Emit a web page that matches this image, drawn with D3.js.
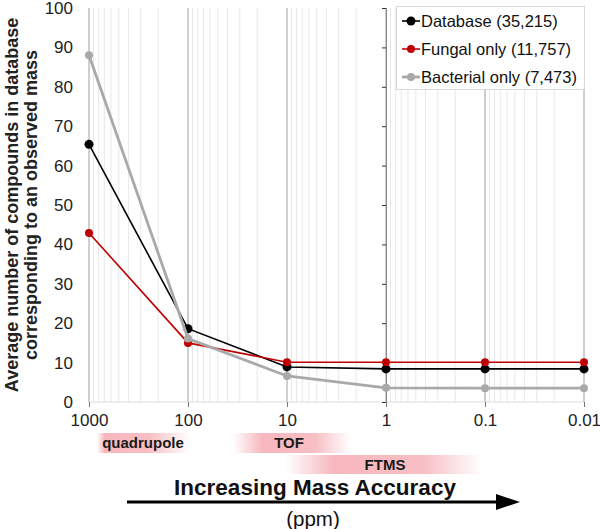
<!DOCTYPE html>
<html><head><meta charset="utf-8">
<script src="https://cdn.jsdelivr.net/npm/d3@7"></script>
<style>body{margin:0;background:#fff;font-family:"Liberation Sans",Arial,sans-serif;}</style>
</head><body><svg id="c" width="600" height="529"></svg>
<script>
const ppm = [1000, 100, 10, 1, 0.1, 0.01];
const ppmLabels = ["1000", "100", "10", "1", "0.1", "0.01"];
const yTicks = [0, 10, 20, 30, 40, 50, 60, 70, 80, 90, 100];
const seriesNames = ["Database (35,215)", "Fungal only (11,757)", "Bacterial only (7,473)"];
const database = [65.4, 18.6, 8.9, 8.4, 8.4, 8.4];
const fungal = [42.9, 15.0, 10.1, 10.1, 10.1, 10.1];
const bacterial = [88.0, 16.1, 6.6, 3.6, 3.5, 3.5];
const instruments = ["quadrupole", "TOF", "FTMS"];
const instrumentFrom = [830, 35, 10.5];
const instrumentTo = [95, 2.3, 0.107];

const svg = d3.select("#c");
const x = d3.scaleLog().domain([1000, 0.01]).range([89, 584]);
const y = d3.scaleLinear().domain([0, 100]).range([402, 8]);

// minor gridlines
const minor = x.ticks().filter(v => !ppm.some(p => Math.abs(p - v) / p < 1e-6));
svg.append("g").selectAll("line").data(minor).join("line")
  .attr("x1", d => x(d)).attr("x2", d => x(d)).attr("y1", y(100)).attr("y2", y(0))
  .attr("stroke", "#e8e8e8").attr("stroke-width", 1);
// major gridlines
svg.append("g").selectAll("line").data(ppm).join("line")
  .attr("x1", d => x(d)).attr("x2", d => x(d)).attr("y1", y(100)).attr("y2", y(0))
  .attr("stroke", d => (d === 1 || d === 0.1) ? "#9a9a9a" : "#cfcfcf")
  .attr("stroke-width", d => (d === 1 || d === 0.1) ? 1 : 2);
// x axis line
svg.append("line").attr("x1", x(1000)).attr("x2", x(0.01)).attr("y1", y(0)).attr("y2", y(0))
  .attr("stroke", "#dcdcdc").attr("stroke-width", 1);
// x axis ticks and labels
const xa = d3.axisBottom(x).tickValues(ppm).tickFormat((d, i) => ppmLabels[i]).tickSize(5).tickPadding(7);
const gx = svg.append("g").attr("transform", `translate(0,${y(0)})`).call(xa);
gx.select(".domain").remove();
gx.selectAll(".tick line").attr("stroke", "#777");
gx.selectAll("text").attr("font-size", 17).attr("fill", "#222").attr("font-family", "Liberation Sans, Arial");

// y axis at ppm=1 (crosses), labels at left
const ya = d3.axisLeft(y).tickValues(yTicks).tickSize(4).tickFormat("");
const gy = svg.append("g").attr("transform", `translate(${x(1)},0)`).call(ya);
gy.select(".domain").attr("stroke", "#888");
gy.selectAll(".tick line").attr("stroke", "#333");
svg.append("g").selectAll("text").data(yTicks).join("text")
  .attr("x", 73).attr("y", d => y(d)).attr("dy", "0.35em").attr("text-anchor", "end")
  .attr("font-size", 17).attr("fill", "#222").text(d => d);

// y title
const yt = svg.append("text").attr("transform", "translate(0,205) rotate(-90)")
  .attr("text-anchor", "middle").attr("font-weight", "bold").attr("font-size", 18).attr("fill", "#222");
yt.append("tspan").attr("x", 0).attr("y", 18).text("Average number of compounds in database");
yt.append("tspan").attr("x", 0).attr("y", 37).text("corresponding to an observed mass");

// series
const series = [
  {name: seriesNames[0], vals: database, color: "#000000", w: 1.6, r: 4.5},
  {name: seriesNames[1], vals: fungal, color: "#c00000", w: 1.6, r: 4},
  {name: seriesNames[2], vals: bacterial, color: "#a9a9a9", w: 2.8, r: 4}
];
const line = d3.line().x(d => x(d[0])).y(d => y(d[1]));
series.forEach(s => {
  const pts = ppm.map((p, i) => [p, s.vals[i]]);
  svg.append("path").attr("d", line(pts)).attr("fill", "none").attr("stroke", s.color).attr("stroke-width", s.w);
  svg.append("g").selectAll("circle").data(pts).join("circle")
    .attr("cx", d => x(d[0])).attr("cy", d => y(d[1])).attr("r", s.r).attr("fill", s.color);
});

// legend
const lg = svg.append("g");
lg.append("rect").attr("x", 396.5).attr("y", 6.5).attr("width", 188).attr("height", 83)
  .attr("fill", "#fff").attr("stroke", "#d9d9d9");
series.forEach((s, i) => {
  const cy = 21 + i * 28;
  lg.append("line").attr("x1", 402).attr("x2", 420).attr("y1", cy).attr("y2", cy)
    .attr("stroke", s.color).attr("stroke-width", s.w);
  lg.append("circle").attr("cx", 411).attr("cy", cy).attr("r", s.r).attr("fill", s.color);
  lg.append("text").attr("x", 421).attr("y", cy).attr("dy", "0.35em").attr("font-size", 16.5)
    .attr("fill", "#111").text(s.name);
});

// instrument bands
const defs = svg.append("defs");
const bandY = [433, 433, 455];
const bandH = [20, 20, 19];
instruments.forEach((name, i) => {
  const id = "g" + i;
  const gr = defs.append("linearGradient").attr("id", id).attr("x1", "0%").attr("x2", "100%");
  gr.append("stop").attr("offset", "0%").attr("stop-color", "#ee6f7b").attr("stop-opacity", 0);
  gr.append("stop").attr("offset", i === 0 ? "8%" : "25%").attr("stop-color", "#ee6f7b").attr("stop-opacity", 0.5);
  gr.append("stop").attr("offset", i === 0 ? "55%" : "70%").attr("stop-color", "#ee6f7b").attr("stop-opacity", 0.45);
  gr.append("stop").attr("offset", "100%").attr("stop-color", "#ee6f7b").attr("stop-opacity", 0);
  const x0 = x(instrumentFrom[i]), x1 = x(instrumentTo[i]);
  svg.append("rect").attr("x", x0).attr("y", bandY[i]).attr("width", x1 - x0).attr("height", bandH[i])
    .attr("fill", `url(#${id})`);
});
const labelX = [143, 289, 385];
instruments.forEach((name, i) => {
  svg.append("text").attr("x", labelX[i]).attr("y", bandY[i] + bandH[i] / 2).attr("dy", "0.35em")
    .attr("text-anchor", "middle").attr("font-weight", "bold").attr("font-size", 15).attr("fill", "#1a1a1a").text(name);
});

// arrow & label
svg.append("text").attr("x", 315).attr("y", 495).attr("text-anchor", "middle")
  .attr("font-weight", "bold").attr("font-size", 22.5).attr("fill", "#111").text("Increasing Mass Accuracy");
svg.append("line").attr("x1", 127).attr("x2", 505).attr("y1", 502).attr("y2", 502)
  .attr("stroke", "#000").attr("stroke-width", 3);
svg.append("path").attr("d", "M496,494 L520,502 L496,510 Z").attr("fill", "#000");
svg.append("text").attr("x", 313).attr("y", 526).attr("text-anchor", "middle")
  .attr("font-size", 20.5).attr("fill", "#111").text("(ppm)");
</script></body></html>
